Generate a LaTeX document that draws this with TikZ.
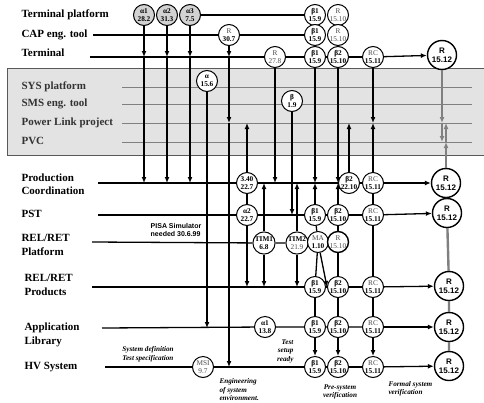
\documentclass[tikz,border=0pt]{standalone}
\usepackage{fontspec}
\setmainfont{Liberation Serif}
\setsansfont{Liberation Sans}
\usetikzlibrary{arrows.meta}

% faint first line in some milestone circles
\newcommand{\lite}[1]{{\mdseries\color{black!70}#1}}

\begin{document}
\begin{tikzpicture}[x=1pt, y=-1pt,
    >={Latex[length=6pt,width=5pt]},
    lane/.style={line width=1.3pt},
    sublane/.style={gray, line width=0.9pt},
    flow/.style={->, line width=1.3pt},
    gflow/.style={->, gray, line width=2.4pt},
    ms/.style={circle, draw, line width=1pt, fill=white, minimum size=21pt,
               inner sep=0pt, align=center, font=\bfseries\fontsize{7.3}{7.6}\selectfont},
    msgrey/.style={ms, fill=gray!35},
    rel/.style={ms, minimum size=29pt, line width=1.4pt,
                font=\sffamily\bfseries\fontsize{8}{9}\selectfont},
    lbl/.style={anchor=west, align=left, font=\bfseries\fontsize{11}{13.5}\selectfont},
    note/.style={align=left, font=\bfseries\itshape\fontsize{7.2}{8.5}\selectfont}]

\useasboundingbox (0,0) rectangle (484,402);

% Grey band of the platform projects
\draw[gray!70!black, line width=1pt, fill=gray!22] (7,68) rectangle (490,155);

% Start points of the lanes
\coordinate (cap0) at (93,35);
\coordinate (term0) at (90,57);
\coordinate (pc0) at (98,183);
\coordinate (pst0) at (98,215);
\coordinate (rp0) at (92,242);
\coordinate (rpr0) at (92,287);
\coordinate (al0) at (102,328);
\coordinate (hv0) at (105,367);
\coordinate (maend) at (327,287);

% Lanes inside the grey band
\foreach \y/\nm in {87/sys, 104/sms, 123/pl, 142/pvc} {
    \coordinate (\nm0) at (122,\y);
    \coordinate (\nm1) at (472,\y);
    \draw[sublane] (\nm0) -- (\nm1);
}

% Lane labels
\node[lbl] (lTP) at (18,15) {Terminal platform};
\node[lbl] (lCAP) at (18,35) {CAP eng. tool};
\node[lbl] (lT) at (18,53) {Terminal};
\node[lbl, text=black!80] (lSYS) at (18,87) {SYS platform};
\node[lbl, text=black!80] (lSMS) at (18,104) {SMS eng. tool};
\node[lbl, text=black!80] (lPL) at (18,123) {Power Link project};
\node[lbl, text=black!80] (lPVC) at (18,141) {PVC};
\node[lbl] (lPC) at (18,184) {Production\\Coordination};
\node[lbl] (lPST) at (18,214) {PST};
\node[lbl] (lRP) at (18,245) {REL/RET\\Platform};
\node[lbl] (lRPR) at (21,285) {REL/RET\\Products};
\node[lbl] (lAL) at (21,335) {Application\\Library};
\node[lbl] (lHV) at (21,367) {HV System};

% Milestones -- top
\node[msgrey] (a1) at (144,15) {α1\\28.2};
\node[msgrey] (a2) at (167,15) {α2\\31.3};
\node[msgrey] (a3) at (190,15) {α3\\7.5};
\node[ms] (r307) at (229,35) {\lite{R}\\30.7};
\node[ms] (a156) at (207,81) {α\\15.6};
\node[ms] (r278) at (275,57) {\lite{R}\\\lite{27.8}};
\node[ms] (b19) at (292,101) {β\\1.9};

\node[ms] (tpb1) at (315,15) {β1\\15.9};
\node[ms] (tpr) at (338,15) {\lite{R}\\\lite{15.10}};
\node[ms] (capb1) at (315,35) {β1\\15.9};
\node[ms] (capr) at (338,35) {\lite{R}\\\lite{15.10}};
\node[ms] (tb1) at (315,57) {β1\\15.9};
\node[ms] (tb2) at (338,57) {β2\\15.10};
\node[ms] (trc) at (373,57) {\lite{RC}\\15.11};
\node[rel] (tr) at (442,55) {R\\15.12};

% Milestones -- Production Coordination and PST
\node[ms] (pc340) at (247,183) {3.40\\22.7};
\node[ms] (pcb2) at (349,183) {β2\\22.10};
\node[ms] (pcrc) at (373,183) {\lite{RC}\\15.11};
\node[rel] (pcr) at (446,183) {R\\15.12};
\node[ms] (pa2) at (247,215) {α2\\22.7};
\node[ms] (pb1) at (315,215) {β1\\15.9};
\node[ms] (pb2) at (338,215) {β2\\15.10};
\node[ms] (prc) at (373,215) {\lite{RC}\\15.11};
\node[rel] (pr) at (447,213) {R\\15.12};

% Milestones -- REL/RET
\node[ms] (tim1) at (264,243) {TIM1\\6.8};
\node[ms] (tim2) at (297,243) {TIM2\\\lite{21.9}};
\node[ms] (ma) at (318,242) {\lite{MA}\\1.10};
\node[ms, line width=1.4pt] (rr) at (338,242) {\lite{R}\\\lite{15.10}};
\node[ms] (rpb1) at (315,287) {β1\\15.9};
\node[ms] (rpb2) at (338,287) {β2\\15.10};
\node[ms] (rprc) at (373,287) {\lite{RC}\\15.11};
\node[rel] (rpr) at (449,286) {R\\15.12};

% Milestones -- Application Library and HV System
\node[ms] (ala1) at (265,327) {α1\\13.8};
\node[ms] (alb1) at (315,327) {β1\\15.9};
\node[ms] (alb2) at (338,327) {β2\\15.10};
\node[ms] (alrc) at (373,327) {\lite{RC}\\15.11};
\node[rel] (alr) at (449,327) {R\\15.12};
\node[ms] (msi) at (203,367) {\lite{MSI}\\\lite{9.7}};
\node[ms] (hvb1) at (315,367) {β1\\15.9};
\node[ms] (hvb2) at (338,367) {β2\\15.10};
\node[ms] (hvrc) at (373,367) {\lite{RC}\\15.11};
\node[rel] (hvr) at (449,366) {R\\15.12};

% Lanes
\draw[lane] (a3) -- (tpb1);
\draw[lane] (cap0) -- (r307) -- (capb1);
\draw[lane] (term0) -- (r278) -- (tb1) -- (tb2) -- (trc);
\draw[lane] (pc0) -- (pc340) -- (pcb2) -- (pcrc);
\draw[lane] (pst0) -- (pa2) -- (pb1) -- (pb2) -- (prc);
\draw[lane] (rp0) -- (tim1) -- (tim2);
\draw[lane] (rpr0) -- (rpb1) -- (rpb2) -- (rprc);
\draw[lane] (al0) -- (ala1) -- (alb1) -- (alb2) -- (alrc);
\draw[lane] (hv0) -- (msi) -- (hvb1) -- (hvb2) -- (hvrc);

% Releases
\foreach \a/\b in {trc/tr, pcrc/pcr, prc/pr, rprc/rpr, alrc/alr, hvrc/hvr} {
    \draw[flow] (\a) -- (\b);
}

% Deliveries from the top
\foreach \n in {a1,a2,a3} {
    \draw[flow] (\n) -- (\n |- term0);
    \draw[flow] (\n |- term0) -- (\n |- pc0);
}
\draw[flow] (r307) -- (r307 |- term0);
\draw[flow] (r307 |- term0) -- (r307 |- pl0);
\draw[flow] (r307 |- pl0) -- (r307 |- hv0);
\draw[flow] (a156) -- (a156 |- al0);
\draw[flow] (r278) -- (r278 |- pc0);
\draw[flow] (b19) -- (b19 |- pst0);
\draw[flow] (tb1) -- (tb1 |- pc0);
\draw[flow] (tb2) -- (tb2 |- pc0);
\draw[flow] (trc) -- (trc |- pl0);

% Deliveries from below
\draw[flow] (pb1) -- (pb1 |- pc0);
\draw[flow] (pb2) -- (pb2 |- pc0);
\draw[flow] (pcrc) -- (pcrc |- pl0);
\draw[flow] (pcb2) -- (pcb2 |- pl0);
\draw[flow] (pc340) -- (pc340 |- pl0);
\draw[lane] (pc340) -- (pa2);
\draw[flow] (pa2) -- (pa2 |- rpr0);
\foreach \n in {tim1,tim2} {
    \draw[flow] (\n) -- (\n |- pc0);
    \draw[flow] (\n) -- (\n |- rpr0);
}

% REL/RET chain
\draw[lane] (pb1) -- (ma) -- (rpb1);
\draw[flow] (ma) -- (maend);
\draw[lane] (pb2) -- (rr) -- (rpb2);
\draw[lane] (pcrc) -- (prc) -- (rprc) -- (alrc);
\draw[lane] (rpb1) -- (alb1);
\draw[lane] (rpb2) -- (alb2);
\foreach \a/\b in {alb1/hvb1, alb2/hvb2, alrc/hvrc} {
    \draw[flow] (\a) -- (\b);
}

% Release column
\draw[gflow] (tr) -- (tr |- pl0);
\draw[gflow] (tr |- pl0) -- (tr |- pvc0);
\draw[gflow] (pcr) -- (pcr |- pvc0);
\draw[gflow] (pcr |- pvc0) -- (pcr |- pl0);
\draw[gray, line width=2.4pt] (pcr) -- (pr) -- (rpr) -- (alr) -- (hvr);

% Notes
\node[font=\sffamily\bfseries\fontsize{7}{7.5}\selectfont, align=left] (pisa) at (176,230) {PISA Simulator\\needed 30.6.99};
\node[note] (sysdef) at (148,354) {System definition\\Test specification};
\node[note, anchor=west] (eng) at (216,390) {Engineering\\of system\\environment.};
\node[note, align=right, anchor=east] (setup) at (297,351) {Test\\setup\\ready};
\node[note, align=center] (presys) at (340,392) {Pre-system\\verification};
\node[note, anchor=west] (formal) at (385,389) {Formal system\\verification};

\end{tikzpicture}
\end{document}
